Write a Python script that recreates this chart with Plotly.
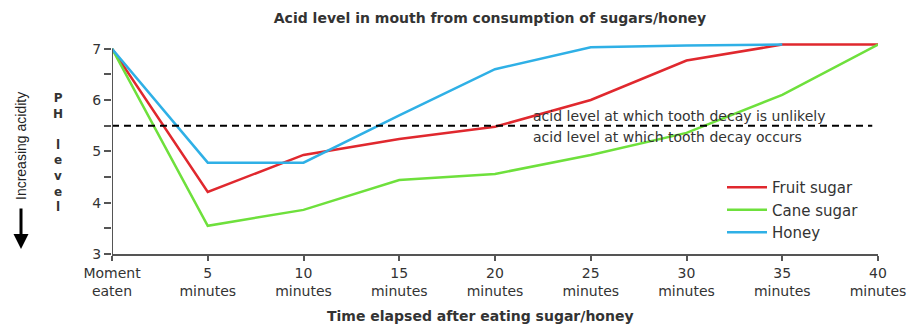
import plotly.graph_objects as go

# time points (minutes after eating) and tick labels
minutes = [0, 5, 10, 15, 20, 25, 30, 35, 40]
x_labels = ["Moment<br>eaten", "5<br>minutes", "10<br>minutes", "15<br>minutes", "20<br>minutes",
            "25<br>minutes", "30<br>minutes", "35<br>minutes", "40<br>minutes"]

# pH level
fruit_sugar = [7.0, 4.21, 4.93, 5.24, 5.48, 6.0, 6.77, 7.08, 7.08]
cane_sugar = [7.0, 3.55, 3.86, 4.44, 4.56, 4.93, 5.36, 6.1, 7.08]
honey_minutes = [0, 5, 10, 15, 20, 25, 30, 35]
honey = [7.0, 4.78, 4.78, 5.7, 6.6, 7.03, 7.06, 7.08]

y_ticks = [3, 3.5, 4, 4.5, 5, 5.5, 6, 6.5, 7]
y_labels = ["3", "", "4", "", "5", "", "6", "", "7"]
decay_level = 5.5

txt = "#333333"
axis_col = "#555555"

fig = go.Figure()
fig.add_trace(go.Scatter(x=minutes, y=fruit_sugar, mode="lines", name="Fruit sugar",
                         line=dict(color="#e0282e", width=2.5)))
fig.add_trace(go.Scatter(x=minutes, y=cane_sugar, mode="lines", name="Cane sugar",
                         line=dict(color="#6ee03c", width=2.5)))
fig.add_trace(go.Scatter(x=honey_minutes, y=honey, mode="lines", name="Honey",
                         line=dict(color="#2fb0e6", width=2.5)))

# threshold line
fig.add_shape(type="line", xref="x", yref="y", x0=0, x1=39.7, y0=decay_level, y1=decay_level,
              line=dict(color="black", width=2, dash="7px,5px"))
# y axis line only up to 7
fig.add_shape(type="line", xref="x", yref="y", x0=0, x1=0, y0=3, y1=7,
              line=dict(color=axis_col, width=2))

fig.add_annotation(text="acid level at which tooth decay is unlikely", xref="x", yref="y",
                   x=21.9, y=5.68, xanchor="left", yanchor="middle", showarrow=False,
                   font=dict(size=14, color=txt))
fig.add_annotation(text="acid level at which tooth decay occurs", xref="x", yref="y",
                   x=21.9, y=5.27, xanchor="left", yanchor="middle", showarrow=False,
                   font=dict(size=14, color=txt))

# stacked "PH level" label
fig.add_annotation(text="<b>P<br>H<br><br>l<br>e<br>v<br>e<br>l</b>", xref="paper", yref="paper",
                   x=(58 - 112) / 766, y=(254 - 152) / 213, xanchor="center", yanchor="middle",
                   align="center", showarrow=False, font=dict(size=12, color=txt))

# increasing acidity label and arrow
fig.add_annotation(text="Increasing acidity", xref="paper", yref="paper",
                   x=(21 - 112) / 766, y=(254 - 146) / 213, xanchor="center", yanchor="middle",
                   textangle=-90, showarrow=False,
                   font=dict(size=14, color="#222222", family="Liberation Sans Narrow, Liberation Sans"))
fig.add_annotation(text="", xref="paper", yref="paper", x=(21 - 112) / 766, y=(254 - 249) / 213,
                   ax=0, ay=-42, showarrow=True, arrowhead=2, arrowsize=1, arrowwidth=3,
                   arrowcolor="black")

fig.add_annotation(text="<b>Time elapsed after eating sugar/honey</b>", xref="paper", yref="paper",
                   x=(480 - 112) / 766, y=(254 - 316) / 213, xanchor="center", yanchor="middle",
                   showarrow=False, font=dict(size=14, color=txt))

fig.update_layout(
    width=924, height=327,
    margin=dict(l=112, r=46, t=41, b=73),
    paper_bgcolor="white", plot_bgcolor="white",
    font=dict(family="DejaVu Sans, Arial, sans-serif", size=14, color=txt),
    title=dict(text="<b>Acid level in mouth from consumption of sugars/honey</b>",
               x=(490) / 924, xanchor="center", y=1 - 18 / 327, yanchor="middle",
               font=dict(size=14, color=txt)),
    showlegend=True,
    legend=dict(x=(722 - 112) / 766, y=(254 - 171) / 213, xanchor="left", yanchor="top",
                bgcolor="rgba(0,0,0,0)", font=dict(size=15, color=txt), tracegroupgap=0,
                itemwidth=40),
)
fig.update_xaxes(range=[0, 40], tickvals=minutes, ticktext=x_labels, showgrid=False, zeroline=False,
                 showline=True, linecolor=axis_col, linewidth=2, ticks="outside", ticklen=5,
                 tickcolor=axis_col, tickwidth=2, tickfont=dict(size=14, color=txt))
fig.update_yaxes(range=[3, 7.15], tickvals=y_ticks, ticktext=y_labels, showgrid=False, zeroline=False,
                 showline=False, ticks="outside", ticklen=7, tickcolor=axis_col, tickwidth=2,
                 tickfont=dict(size=14, color=txt))

fig.write_html("out.html", config={"displayModeBar": False},
               post_script="document.body.style.margin='0';")
